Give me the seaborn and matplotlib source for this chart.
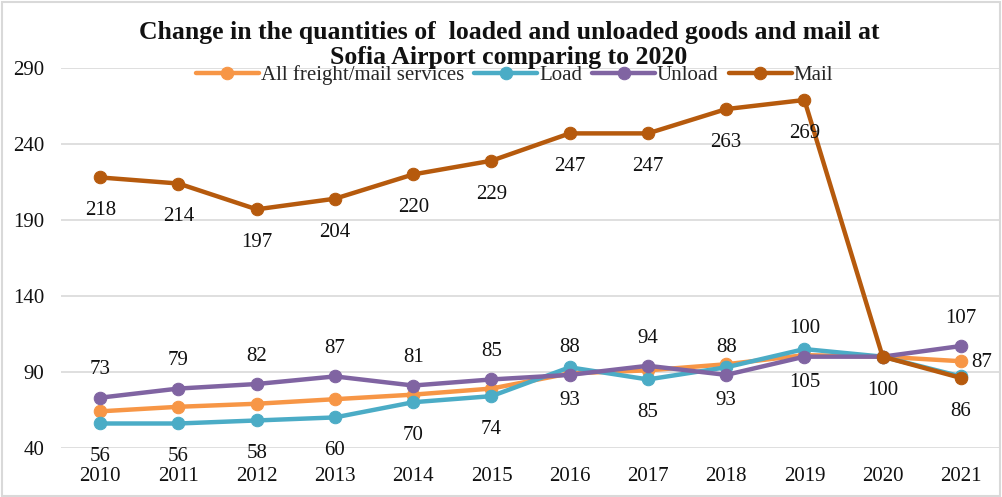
import matplotlib
matplotlib.use("Agg")
import matplotlib.pyplot as plt
import seaborn as sns
import pandas as pd

years = [2010, 2011, 2012, 2013, 2014, 2015, 2016, 2017, 2018, 2019, 2020, 2021]
all_services = [64, 67, 69, 72, 75, 79, 89, 91, 95, 101, 100, 97]
load = [56, 56, 58, 60, 70, 74, 93, 85, 93, 105, 100, 87]
unload = [73, 79, 82, 87, 81, 85, 88, 94, 88, 100, 100, 107]
mail = [218, 214, 197, 204, 220, 229, 247, 247, 263, 269, 100, 86]
series_names = ["All freight/mail services", "Load", "Unload", "Mail"]
yticks = [40, 90, 140, 190, 240, 290]

sns.set_theme(style="white")
plt.rcParams["font.family"] = ["Liberation Serif", "DejaVu Serif"]

colors = ["#F79646", "#4BACC6", "#8064A2", "#B65A0D"]
values = [all_services, load, unload, mail]

fig = plt.figure(figsize=(10.02, 4.97), dpi=100)
ax = fig.add_axes([0.061, 0.099, 0.937, 0.764])

pos = list(range(len(years)))
for name, vals, c in zip(series_names, values, colors):
    df = pd.DataFrame({"x": pos, "y": vals})
    sns.lineplot(data=df, x="x", y="y", ax=ax, color=c, linewidth=3.2,
                 marker="o", markersize=9, markeredgecolor=c, label=name)

FS = 15
# labels
for i, v in enumerate(unload):
    if i == 10:
        continue
    ax.annotate(str(v), (i, v), xytext=(0, 20), textcoords="offset points",
                ha="center", va="center", fontsize=FS, color="#111111")
for i, v in enumerate(load):
    if i == 10:
        continue
    if i == 11:
        ax.annotate(str(v), (i, v), xytext=(15, 10), textcoords="offset points",
                    ha="center", va="center", fontsize=FS, color="#111111")
        continue
    ax.annotate(str(v), (i, v), xytext=(0, -24), textcoords="offset points",
                ha="center", va="center", fontsize=FS, color="#111111")
for i, v in enumerate(mail):
    ax.annotate(str(v), (i, v), xytext=(0, -24), textcoords="offset points",
                ha="center", va="center", fontsize=FS, color="#111111")

ax.set_xlim(-0.5, len(years) - 0.5)
ax.set_ylim(40, 290)
ax.set_yticks(yticks)
ax.set_xticks(pos)
ax.set_xticklabels([str(y) for y in years])
ax.tick_params(axis="both", labelsize=FS, colors="#111111", length=0)
ax.tick_params(axis="x", pad=14)
ax.tick_params(axis="y", pad=12)
ax.grid(axis="y", color="#D9D9D9", linewidth=1.2)
ax.set_axisbelow(True)
for s in ax.spines.values():
    s.set_visible(False)
ax.set_xlabel("")
ax.set_ylabel("")

leg = ax.legend(loc="center", bbox_to_anchor=(0.483, 0.982), ncol=4, frameon=False,
                fontsize=15, handlelength=3.0, columnspacing=0.5, handletextpad=0.1,
                borderaxespad=0)

fig.text(0.508, 0.958, "Change in the quantities of  loaded and unloaded goods and mail at\nSofia Airport comparing to 2020",
         ha="center", va="top", fontsize=18.5, fontweight="bold", color="#111111",
         linespacing=1.12)

fig.patches.append(plt.Rectangle((0.002, 0.002), 0.996, 0.994, transform=fig.transFigure,
                                 fill=False, edgecolor="#D9D9D9", linewidth=1.5))

fig.savefig("out.png", dpi=100)
